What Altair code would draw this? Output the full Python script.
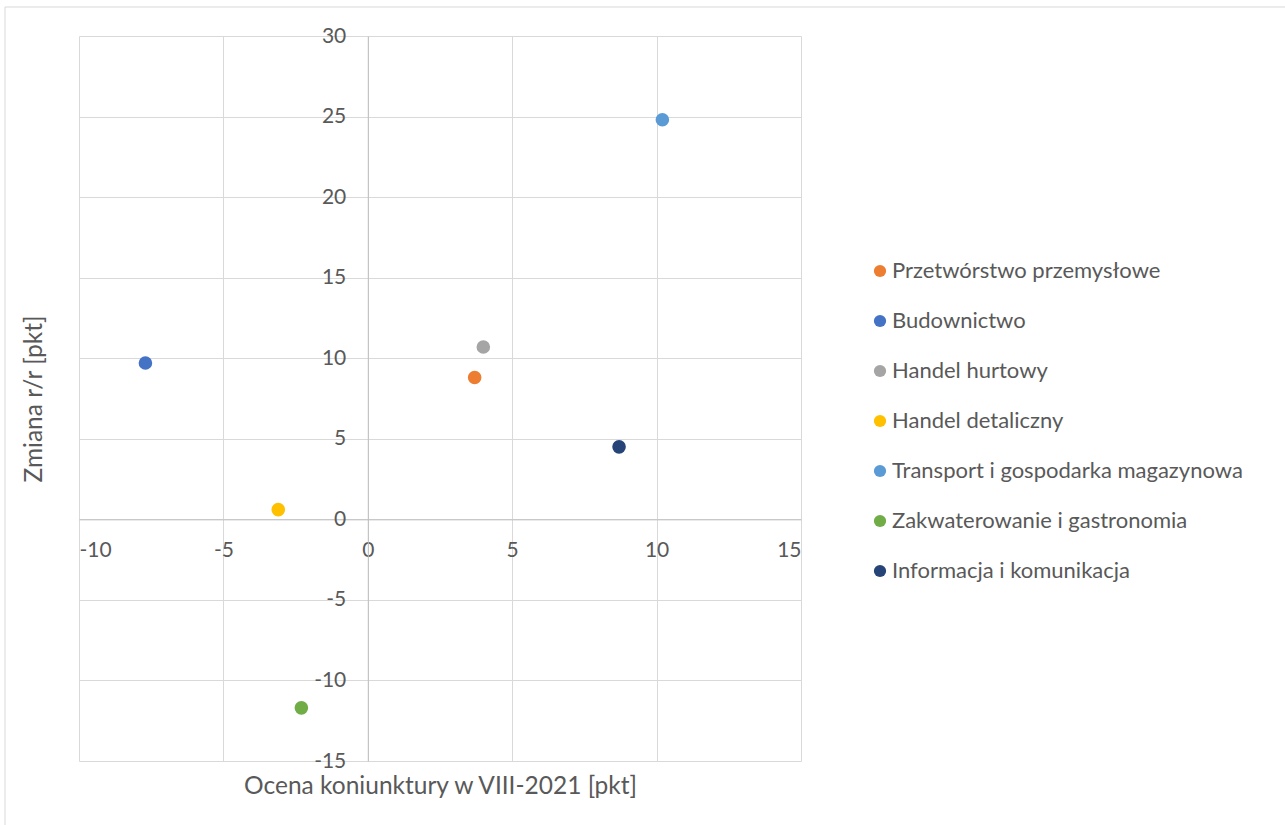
import altair as alt
import pandas as pd

sectors = [
    "Przetwórstwo przemysłowe",
    "Budownictwo",
    "Handel hurtowy",
    "Handel detaliczny",
    "Transport i gospodarka magazynowa",
    "Zakwaterowanie i gastronomia",
    "Informacja i komunikacja",
]
ocena = [3.7, -7.7, 4.0, -3.1, 10.2, -2.3, 8.7]
zmiana = [8.8, 9.7, 10.7, 0.6, 24.8, -11.7, 4.5]
colors = ["#ED7D31", "#4472C4", "#A5A5A5", "#FFC000", "#5B9BD5", "#70AD47", "#264478"]
x_ticks = [-10, -5, 0, 5, 10, 15]
y_ticks = [-15, -10, -5, 0, 5, 10, 15, 20, 25, 30]

df = pd.DataFrame({"sektor": sectors, "x": ocena, "y": zmiana})

W, H = 722, 725
FONT = "Lato"
TXT = "#595959"

frame = alt.Chart(pd.DataFrame({"a": [0]})).mark_rect(
    fill="transparent", stroke="#D9D9D9", strokeWidth=1
).encode(
    x=alt.value(-74), x2=alt.value(1230), y=alt.value(-29), y2=alt.value(820)
)

points = alt.Chart(df).mark_circle(size=185, opacity=1).encode(
    x=alt.X(
        "x:Q",
        scale=alt.Scale(domain=[-10, 15], nice=False, zero=False),
        axis=alt.Axis(
            values=x_ticks,
            labelExpr="datum.value + ''",
            title="Ocena koniunktury w VIII-2021 [pkt]",
            offset=-H * 15 / 45,
            grid=True,
            gridColor="#D9D9D9",
            domainColor="#BFBFBF",
            ticks=False,
            labelPadding=20,
            labelFont=FONT,
            labelFontSize=21,
            labelColor=TXT,
            titleFont=FONT,
            titleFontSize=24.5,
            titleFontWeight="normal",
            titleColor=TXT,
            titleX=W / 2,
            titleY=267,
            titleBaseline="middle",
            titleAlign="center",
        ),
    ),
    y=alt.Y(
        "y:Q",
        scale=alt.Scale(domain=[-15, 30], nice=False, zero=False),
        axis=alt.Axis(
            values=y_ticks,
            labelExpr="datum.value + ''",
            title="Zmiana r/r [pkt]",
            offset=-W * 10 / 25,
            grid=True,
            gridColor="#D9D9D9",
            domainColor="#BFBFBF",
            ticks=False,
            labelPadding=22,
            labelFont=FONT,
            labelFontSize=21,
            labelColor=TXT,
            titleFont=FONT,
            titleFontSize=24.5,
            titleFontWeight="normal",
            titleColor=TXT,
            titleX=-333,
            titleY=H / 2,
            titleAngle=-90,
            titleBaseline="middle",
            titleAlign="center",
        ),
    ),
    color=alt.Color(
        "sektor:N",
        sort=sectors,
        scale=alt.Scale(domain=sectors, range=colors),
        legend=alt.Legend(
            title=None,
            orient="none",
            legendX=790,
            legendY=224,
            padding=0,
            symbolType="circle",
            symbolSize=150,
            symbolStrokeWidth=0,
            symbolOpacity=1,
            labelFont=FONT,
            labelFontSize=22,
            labelColor=TXT,
            labelOffset=1,
            rowPadding=28,
            labelLimit=500,
        ),
    ),
)

chart = alt.layer(frame, points).properties(
    width=W,
    height=H,
    padding={"left": 79, "top": 36, "right": 484, "bottom": 64},
    autosize=alt.AutoSizeParams(type="none"),
    background="white",
).configure_view(stroke="transparent")

chart.save("out.html", embed_options={"renderer": "svg", "actions": False})
